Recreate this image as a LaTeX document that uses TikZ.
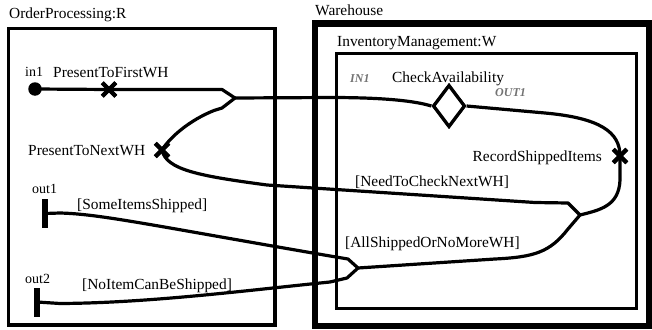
\documentclass[tikz,border=0pt]{standalone}
\usepackage{fontspec}
\setmainfont{Liberation Serif}
\usetikzlibrary{shapes.geometric,shapes.misc}
\begin{document}
\begin{tikzpicture}[x=1pt,y=-1pt,
  lbl/.style={font=\fontsize{15.4}{18}\selectfont, inner sep=0pt, anchor=base west},
  small/.style={font=\fontsize{14}{16}\selectfont, inner sep=0pt, anchor=base west},
  port/.style={font=\fontsize{12}{14}\selectfont\bfseries\itshape, text=black!55, inner sep=0pt, anchor=base west},
  conn/.style={line width=3.2pt, line join=round},
  xmark/.style={cross out, draw, line width=4pt, minimum size=9.5pt, inner sep=0pt},
  bar/.style={fill, minimum width=5.5pt, minimum height=29pt, inner sep=0pt},
  dot/.style={circle, fill, minimum size=13.5pt, inner sep=0pt},
  choice/.style={diamond, draw, line width=3.2pt, fill=white, minimum width=32pt, minimum height=42pt, inner sep=0pt}]
\useasboundingbox (0,0) rectangle (652,329);
% containers
\draw[line width=3.3pt] (8.5,28.5) rectangle (275,325);
\draw[line width=6.5pt] (315,23.5) rectangle (649,326);
\draw[line width=3.3pt] (336.5,53.5) rectangle (636.5,308.5);
\node[lbl] (tOP) at (9,19) {OrderProcessing:R};
\node[lbl] (tWH) at (315,16) {Warehouse};
\node[lbl] (tIM) at (337,46) {InventoryManagement:W};
% elements
\node[dot] (in1) at (35,89) {};
\node[xmark] (x1) at (109,89.5) {};
\node[xmark] (x2) at (162,150) {};
\node[xmark] (x3) at (620,156) {};
\node[bar] (o1) at (45,213.5) {};
\node[bar] (o2) at (37,302) {};
\coordinate (f1) at (235,98);
\coordinate (f2) at (580,215);
\coordinate (f3) at (358,268);
\node[choice] (chk) at (449,106) {};
% connectors
\draw[conn] (in1.center) -- (x1.center) -- (222,89.5) -- (f1);
\draw[conn] (f1) -- (222,108) -- (214,110.5) .. controls (190,120) and (170,137) .. (x2.center);
\draw[conn] (f1) -- (330,97.5) .. controls (385,97.5) and (415,101) .. (chk.west);
\draw[conn] (chk.east) -- (545,113) .. controls (600,118) and (620,132) .. (x3.center);
\draw[conn] (x3.center) -- (620,180) .. controls (619,206) and (600,210) .. (f2);
\draw[conn] (f2) -- (568,203) -- (535,202.5) -- (267,185) .. controls (200,176) and (166,170) .. (x2.center);
\draw[conn] (f2) -- (568,229) .. controls (550,252) and (535,257) .. (495,259) -- (f3);
\draw[conn] (f3) -- (348,259) -- (330,256) .. controls (150,225) and (100,214) .. (60,213) -- (o1.center);
\draw[conn] (f3) -- (347,278) -- (330,282) .. controls (250,290) and (150,303) .. (60,303.5) -- (o2.center);
\node[choice] at (chk) {};
\node[xmark] at (x1) {};
\node[xmark] at (x2) {};
\node[xmark] at (x3) {};
% labels
\node[small] (lin1) at (25,76) {in1};
\node[lbl] (lp1) at (53,77) {PresentToFirstWH};
\node[lbl] (lp2) at (28,155) {PresentToNextWH};
\node[port] (lIN) at (350,82) {IN1};
\node[lbl] (lca) at (392,82) {CheckAvailability};
\node[port] (lOUT) at (495,96) {OUT1};
\node[lbl, anchor=base east] (lrs) at (602,161) {RecordShippedItems};
\node[lbl] (lnc) at (355,186) {[NeedToCheckNextWH]};
\node[lbl] (las) at (345,247) {[AllShippedOrNoMoreWH]};
\node[small] (lo1) at (32,193) {out1};
\node[lbl] (lsi) at (77,209) {[SomeItemsShipped]};
\node[small] (lo2) at (25,283) {out2};
\node[lbl] (lnb) at (82,289) {[NoItemCanBeShipped]};
\end{tikzpicture}
\end{document}
